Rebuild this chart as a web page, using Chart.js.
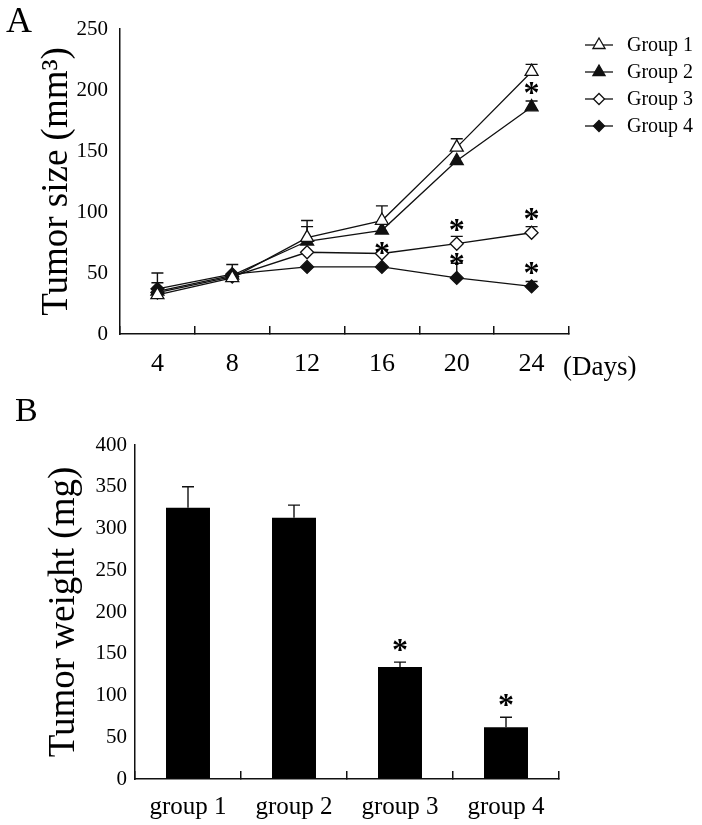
<!DOCTYPE html>
<html>
<head>
<meta charset="utf-8">
<script src="https://cdn.jsdelivr.net/npm/chart.js@4.4.1/dist/chart.umd.min.js"></script>
<style>
  body { margin: 0; background: #fff; }
  #page { position: relative; width: 702px; height: 825px; font-family: "Liberation Serif", "Times New Roman", serif; color: #000; }
  .lbl { position: absolute; line-height: 1; }
  #chartA { position: absolute; left: 0; top: 0; }
  #chartB { position: absolute; left: 0; top: 390px; }
</style>
</head>
<body>
<div id="page">
  <canvas id="chartA" width="702" height="390"></canvas>
  <canvas id="chartB" width="702" height="435"></canvas>
  <div class="lbl" style="left:6px; top:2px; font-size:36px;">A</div>
  <div class="lbl" style="left:15px; top:393px; font-size:34px;">B</div>
  <div class="lbl" style="left:563px; top:353px; font-size:27px;">(Days)</div>
</div>
<script>
// Panel A: tumor size over time
const days = ["4", "8", "12", "16", "20", "24"];
const groupNames = ["Group 1", "Group 2", "Group 3", "Group 4"];
const size1 = [32, 46, 79, 93, 153, 215];
const size2 = [35, 48, 76, 85, 142, 186];
const size3 = [34, 47, 67, 66, 74, 83];
const size4 = [37, 49, 55, 55, 46, 39];
const sizeErr1 = [18, 0, 14, 12, 7, 6];
const sizeErr2 = [0, 9, 12, 0, 0, 5];
const sizeErr3 = [0, 0, 0, 0, 6, 5];
const sizeErr4 = [5, 0, 0, 0, 12, 4];
// 1 = marked with * in the figure
const sizeSig1 = [0, 0, 0, 0, 0, 0];
const sizeSig2 = [0, 0, 0, 0, 0, 1];
const sizeSig3 = [0, 0, 0, 0, 1, 1];
const sizeSig4 = [0, 0, 0, 1, 1, 1];

// Panel B: tumor weight at the end
const weightGroups = ["group 1", "group 2", "group 3", "group 4"];
const weights = [325, 313, 134, 62];
const weightErr = [25, 15, 6, 12];
const weightSig = [0, 0, 1, 1];

const serif = "'Liberation Serif', 'Times New Roman', serif";
const ink = "#111";

function drawMarker(ctx, style, x, y, r, fill) {
  ctx.beginPath();
  if (style === "triangle") {
    for (let k = 0; k < 3; k++) {
      const a = (k * 2 * Math.PI) / 3;
      const px = x + Math.sin(a) * r;
      const py = y - Math.cos(a) * r;
      if (k === 0) ctx.moveTo(px, py);
      else ctx.lineTo(px, py);
    }
  } else {
    ctx.moveTo(x - r, y);
    ctx.lineTo(x, y - r);
    ctx.lineTo(x + r, y);
    ctx.lineTo(x, y + r);
  }
  ctx.closePath();
  ctx.fillStyle = fill;
  ctx.fill();
  ctx.stroke();
}

// error bars (upper half only) from dataset.errors
function makeErrorBars(front) {
  const draw = (chart, args, opts) => {
    const ctx = chart.ctx;
    const yScale = chart.scales.y;
    ctx.save();
    ctx.strokeStyle = ink;
    ctx.lineWidth = 1.4;
    chart.data.datasets.forEach((ds, di) => {
      const meta = chart.getDatasetMeta(di);
      ds.errors.forEach((e, i) => {
        if (!e) return;
        const p = meta.data[i];
        const top = yScale.getPixelForValue(ds.data[i] + e);
        ctx.beginPath();
        ctx.moveTo(p.x, p.y);
        ctx.lineTo(p.x, top);
        ctx.moveTo(p.x - opts.cap, top);
        ctx.lineTo(p.x + opts.cap, top);
        ctx.stroke();
      });
    });
    ctx.restore();
  };
  return front
    ? { id: "errorBars", afterDatasetsDraw: draw }
    : { id: "errorBars", beforeDatasetsDraw: draw };
}

const stars = {
  id: "stars",
  afterDatasetsDraw(chart, args, opts) {
    const ctx = chart.ctx;
    const yScale = chart.scales.y;
    ctx.save();
    ctx.fillStyle = "#000";
    ctx.font = opts.font;
    ctx.textAlign = "center";
    ctx.textBaseline = "middle";
    chart.data.datasets.forEach((ds, di) => {
      const meta = chart.getDatasetMeta(di);
      ds.sig.forEach((s, i) => {
        if (!s) return;
        const p = meta.data[i];
        const base = opts.fromError
          ? yScale.getPixelForValue(ds.data[i] + ds.errors[i])
          : p.y;
        ctx.fillText("*", p.x, base - opts.gap + opts.shift);
      });
    });
    ctx.restore();
  },
};

// legend with a short line through each marker
const lineLegend = {
  id: "lineLegend",
  afterDraw(chart, args, opts) {
    const ctx = chart.ctx;
    ctx.save();
    ctx.strokeStyle = ink;
    ctx.lineWidth = 1.3;
    ctx.font = opts.font;
    ctx.textBaseline = "middle";
    chart.data.datasets.forEach((ds, i) => {
      const y = opts.top + i * opts.step;
      ctx.beginPath();
      ctx.moveTo(opts.x - opts.half, y);
      ctx.lineTo(opts.x + opts.half, y);
      ctx.stroke();
      drawMarker(ctx, ds.pointStyle, opts.x, y, ds.pointStyle === "triangle" ? 7 : 5.5, ds.pointBackgroundColor);
      ctx.fillStyle = "#000";
      ctx.fillText(ds.label, opts.textX, y + 1);
    });
    ctx.restore();
  },
};

function groupSet(name, data, errors, sig, style, fill) {
  return {
    label: name,
    data: data,
    errors: errors,
    sig: sig,
    pointStyle: style,
    pointRadius: style === "triangle" ? 7.5 : 6.5,
    pointBackgroundColor: fill,
    pointBorderColor: ink,
    pointBorderWidth: 1.3,
    borderColor: ink,
    backgroundColor: fill,
    borderWidth: 1.3,
    tension: 0,
  };
}

new Chart(document.getElementById("chartA"), {
  type: "line",
  data: {
    labels: days,
    datasets: [
      groupSet(groupNames[0], size1, sizeErr1, sizeSig1, "triangle", "#fff"),
      groupSet(groupNames[1], size2, sizeErr2, sizeSig2, "triangle", ink),
      groupSet(groupNames[2], size3, sizeErr3, sizeSig3, "rectRot", "#fff"),
      groupSet(groupNames[3], size4, sizeErr4, sizeSig4, "rectRot", ink),
    ],
  },
  options: {
    responsive: false,
    animation: false,
    layout: { padding: { top: 29, right: 133, left: 0, bottom: 0 } },
    plugins: {
      legend: { display: false },
      tooltip: { enabled: false },
      errorBars: { cap: 6 },
      stars: { font: "bold 32px " + serif, gap: 19, shift: 7, fromError: false },
      lineLegend: { font: "20px " + serif, x: 599, half: 14, textX: 627, top: 45, step: 27 },
    },
    scales: {
      x: {
        offset: true,
        grid: { offset: true, drawOnChartArea: false, tickLength: -8, color: ink, lineWidth: 1.5 },
        border: { color: ink, width: 1.5 },
        ticks: { font: { family: serif, size: 26 }, color: "#000", padding: 23 },
        afterFit: (s) => { s.height = 56; },
      },
      y: {
        min: 0,
        max: 250,
        ticks: { stepSize: 50, font: { family: serif, size: 21 }, color: "#000", padding: 12 },
        grid: { drawOnChartArea: false, drawTicks: false },
        border: { color: ink, width: 1.5 },
        title: {
          display: true,
          text: "Tumor size (mm³)",
          font: { family: serif, size: 37 },
          color: "#000",
          padding: { top: 35, bottom: 0 },
        },
        afterFit: (s) => { s.width = 120; },
      },
    },
  },
  plugins: [makeErrorBars(false), stars, lineLegend],
});

new Chart(document.getElementById("chartB"), {
  type: "bar",
  data: {
    labels: weightGroups,
    datasets: [
      {
        label: "Tumor weight",
        data: weights,
        errors: weightErr,
        sig: weightSig,
        backgroundColor: "#000",
        barPercentage: 0.415,
        categoryPercentage: 1,
      },
    ],
  },
  options: {
    responsive: false,
    animation: false,
    layout: { padding: { top: 55, right: 143, left: 0, bottom: 0 } },
    plugins: {
      legend: { display: false },
      tooltip: { enabled: false },
      errorBars: { cap: 6 },
      stars: { font: "bold 32px " + serif, gap: 17, shift: 7, fromError: true },
    },
    scales: {
      x: {
        grid: { offset: true, drawOnChartArea: false, tickLength: -8, color: ink, lineWidth: 1.5 },
        border: { color: ink, width: 1.5 },
        ticks: { font: { family: serif, size: 25 }, color: "#000", padding: 21 },
        afterFit: (s) => { s.height = 46; },
      },
      y: {
        min: 0,
        max: 400,
        ticks: { stepSize: 50, font: { family: serif, size: 21 }, color: "#000", padding: 8 },
        grid: { drawOnChartArea: false, drawTicks: false },
        border: { color: ink, width: 1.5 },
        title: {
          display: true,
          text: "Tumor weight (mg)",
          font: { family: serif, size: 37 },
          color: "#000",
          padding: { top: 42, bottom: 0 },
        },
        afterFit: (s) => { s.width = 135; },
      },
    },
  },
  plugins: [makeErrorBars(true), stars],
});
</script>
</body>
</html>
